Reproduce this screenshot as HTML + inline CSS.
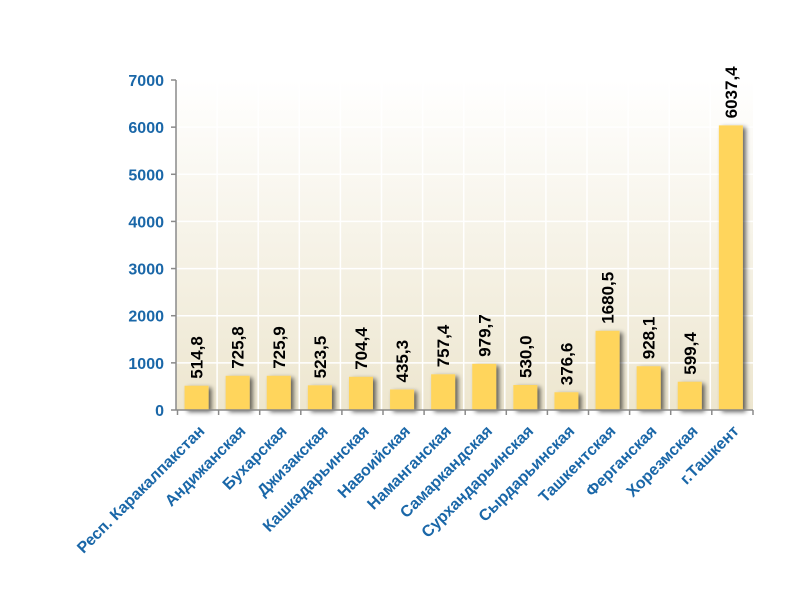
<!DOCTYPE html>
<html><head><meta charset="utf-8"><style>body{margin:0;background:#fff}svg{display:block}</style></head><body>
<svg width="800" height="600" xmlns="http://www.w3.org/2000/svg" font-family="Liberation Sans, sans-serif">
<defs>
<linearGradient id="bg" x1="0" y1="0" x2="0" y2="1"><stop offset="0" stop-color="#ffffff"/><stop offset="1" stop-color="#ede6cf"/></linearGradient>
<filter id="sh" x="-50%" y="-50%" width="200%" height="200%"><feGaussianBlur in="SourceAlpha" stdDeviation="2.5"/><feOffset dx="3" dy="2"/><feComponentTransfer><feFuncA type="linear" slope="0.6"/></feComponentTransfer><feMerge><feMergeNode/><feMergeNode in="SourceGraphic"/></feMerge></filter>
</defs>
<rect x="176" y="80" width="577" height="330" fill="url(#bg)"/>
<g stroke="#ffffff" stroke-width="1.5" id="grid"></g>
<g id="bars"></g>
<line x1="176" y1="80" x2="176" y2="410" stroke="#8a8a8a" stroke-width="1.5"/>
<line x1="176" y1="410" x2="753" y2="410" stroke="#8a8a8a" stroke-width="1.5"/>
<g id="ax" font-size="16" font-weight="bold" fill="#1a67a8" text-anchor="end"></g>
<script>
var ns="http://www.w3.org/2000/svg";
function el(t,a,p,txt){var e=document.createElementNS(ns,t);for(var k in a)e.setAttribute(k,a[k]);if(txt)e.textContent=txt;p.appendChild(e);return e;}
var svg=document.querySelector('svg');
var grid=document.getElementById('grid'),bars=document.getElementById('bars'),ax=document.getElementById('ax');
var y0=410,k=330/7000,x0=176,w=41.1;
for(var i=0;i<=7;i++){var y=y0-i*1000*k;
 if(i>0)el('line',{x1:176,x2:753,y1:y,y2:y},grid);
 el('line',{x1:171,x2:176,y1:y,y2:y,stroke:'#8a8a8a','stroke-width':1.5},svg);
 el('text',{x:164,y:y+6},ax,String(i*1000));}
var names=["Респ. Каракалпакстан","Андижанская","Бухарская","Джизакская","Кашкадарьинская","Навоийская","Наманганская","Самаркандская","Сурхандарьинская","Сырдарьинская","Ташкентская","Ферганская","Хорезмская","г.Ташкент"];
var vals=[514.8,725.8,725.9,523.5,704.4,435.3,757.4,979.7,530.0,376.6,1680.5,928.1,599.4,6037.4];
for(var i=0;i<14;i++){
 var xl=x0+(i+1)*w;
 if(i<13)el('line',{x1:xl,x2:xl,y1:80,y2:410},grid);
 el('line',{x1:x0+i*w+1.5,x2:x0+i*w+1.5,y1:410,y2:415,stroke:'#8a8a8a','stroke-width':1.5},svg);
 var c=x0+i*w+w/2,h=vals[i]*k;
 el('rect',{x:c-12,y:y0-h,width:24,height:h,fill:'#ffd55c',filter:'url(#sh)'},bars);
 el('text',{x:0,y:0,'font-size':17,'font-weight':'bold',fill:'#000',transform:'translate('+(c+6)+','+(y0-h-7)+') rotate(-90)'},svg,vals[i].toFixed(1).replace('.',','));
 el('text',{x:0,y:0,'font-size':16,'font-weight':'bold',fill:'#1a67a8','text-anchor':'end',transform:'translate('+(c+9)+','+(432)+') rotate(-45)'},svg,names[i]);
}
el('line',{x1:753,x2:753,y1:410,y2:415,stroke:'#8a8a8a','stroke-width':1.5},svg);
</script>
</svg>
</body></html>
